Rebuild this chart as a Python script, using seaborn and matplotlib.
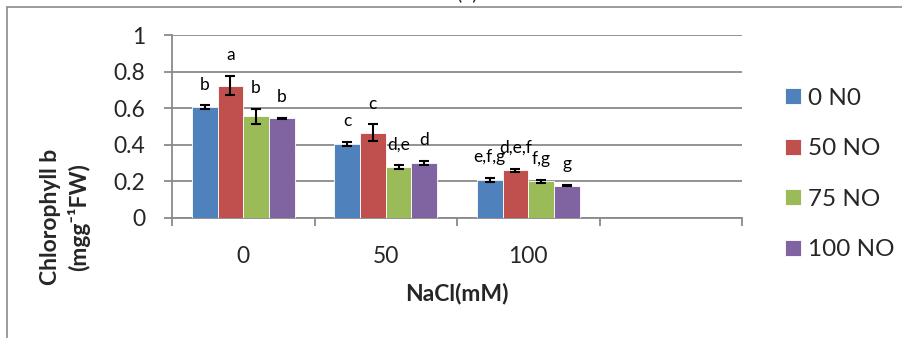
import matplotlib
matplotlib.use("Agg")
import matplotlib.pyplot as plt
import matplotlib.patches as mpatches
from matplotlib.container import BarContainer
import seaborn as sns
import pandas as pd
import numpy as np

# ---- data ----
nacl = ["0", "50", "100"]
treatments = ["0 N0", "50 NO", "75 NO", "100 NO"]
vals_0N0 = [0.605, 0.405, 0.206]
vals_50NO = [0.723, 0.465, 0.262]
vals_75NO = [0.556, 0.278, 0.200]
vals_100NO = [0.545, 0.302, 0.177]
err_0N0 = [0.010, 0.010, 0.012]
err_50NO = [0.053, 0.046, 0.008]
err_75NO = [0.040, 0.010, 0.010]
err_100NO = [0.004, 0.010, 0.004]
lbl_0N0 = ["b", "c", "e,f,g"]
lbl_50NO = ["a", "c", "d,e,f"]
lbl_75NO = ["b", "d,e", "f,g"]
lbl_100NO = ["b", "d", "g"]
yticks = [0, 0.2, 0.4, 0.6, 0.8, 1]
ytick_labels = ["0", "0.2", "0.4", "0.6", "0.8", "1"]

colors = ["#4F81BD", "#C0504D", "#9BBB59", "#8064A2"]

vals = [vals_0N0, vals_50NO, vals_75NO, vals_100NO]
errs = [err_0N0, err_50NO, err_75NO, err_100NO]
lbls = [lbl_0N0, lbl_50NO, lbl_75NO, lbl_100NO]

rows = []
for t, v, e, l in zip(treatments, vals, errs, lbls):
    for n, vv, ee, ll in zip(nacl, v, e, l):
        rows.append(dict(NaCl=n, NO=t, value=vv, err=ee, label=ll))
df = pd.DataFrame(rows)

sns.set_style("white")
FONT = ["Lato", "DejaVu Sans"]
plt.rcParams["font.family"] = FONT

W, H = 902, 338
fig = plt.figure(figsize=(W / 100, H / 100), dpi=100)
ax = fig.add_axes([172 / W, 1 - 218 / H, (742 - 172) / W, (218 - 35) / H])

order = nacl + [" "]
sns.barplot(data=df, x="NaCl", y="value", hue="NO", order=order,
            hue_order=treatments, palette=colors, saturation=1,
            width=0.72, errorbar=None, edgecolor="white", linewidth=0.6,
            ax=ax, zorder=3)

# error bars + letters
bar_conts = [c for c in ax.containers if isinstance(c, BarContainer)]
for ti, cont in enumerate(bar_conts):
    for bar in cont:
        if bar is None:
            continue
        h = bar.get_height()
        if not np.isfinite(h):
            continue
        xc = bar.get_x() + bar.get_width() / 2
        ci = int(round(xc))
        if ci >= len(nacl):
            continue
        e = errs[ti][ci]
        ax.errorbar(xc, h, yerr=e, fmt="none", ecolor="black",
                    elinewidth=1.5, capsize=3.6, capthick=1.5, zorder=4)
        ax.annotate(lbls[ti][ci], (xc, h + e), xytext=(0, 15),
                    textcoords="offset points", ha="center", va="center",
                    fontsize=12.5, color="black", zorder=5)

ax.set_xlim(-0.5, 3.5)
ax.set_ylim(0, 1)
ax.set_yticks(yticks)
ax.set_yticklabels(ytick_labels, fontsize=16.5)
ax.yaxis.grid(True, color="#8a8a8a", linewidth=1.3, zorder=0)
ax.set_axisbelow(True)
ax.set_xticks([0, 1, 2, 3])
ax.set_xticklabels(order, fontsize=16.5)
ax.set_xticks([-0.5, 0.5, 1.5, 2.5, 3.5], minor=True)
ax.tick_params(axis="x", which="major", length=0, pad=20)
ax.tick_params(axis="x", which="minor", length=6, width=1.3, color="#8a8a8a",
               direction="out", bottom=True)
ax.tick_params(axis="y", which="major", length=6, width=1.3, color="#8a8a8a",
               direction="out", pad=13, left=True)
for s in ["top", "right"]:
    ax.spines[s].set_visible(False)
for s in ["left", "bottom"]:
    ax.spines[s].set_color("#8a8a8a")
    ax.spines[s].set_linewidth(1.3)

ax.set_xlabel("")
ax.set_ylabel("")
fig.text(457 / W, 1 - 293 / H, "NaCl(mM)", ha="center", va="center",
         fontsize=16.5, fontweight="bold")
fig.text(65 / W, 1 - 217 / H, "Chlorophyll b\n(mgg\u207b\u00b9FW)", rotation=90,
         ha="center", va="center", fontsize=16.5, fontweight="bold",
         multialignment="center", linespacing=1.35)

# legend
handles, labels = ax.get_legend_handles_labels()
ax.legend(handles, labels, loc="center left",
          bbox_to_anchor=(775 / W, 1 - 174 / H), bbox_transform=fig.transFigure,
          frameon=False, fontsize=17.5, handlelength=0.65, handleheight=0.65,
          handletextpad=0.3, labelspacing=1.22, borderaxespad=0)

# outer frame and clipped title
fig.patches.append(mpatches.Rectangle((7.5 / W, -0.1), 1.2, 1 - 6.5 / H + 0.1,
                                      transform=fig.transFigure, fill=False,
                                      edgecolor="#8a8a8a", linewidth=1.2))
fig.text(467 / W, 1 - 2 / H, "(b)", ha="center", va="bottom", fontsize=14)

fig.savefig("out.png", dpi=100)
